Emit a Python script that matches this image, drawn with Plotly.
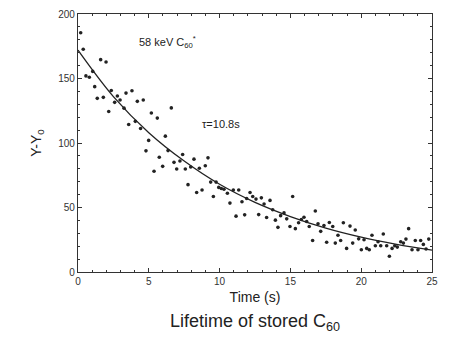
import plotly.graph_objects as go

# Measured points (time s, Y-Y0)
time_s = [0.19, 0.37, 0.56, 0.80, 1.04, 1.18, 1.36, 1.60, 1.79, 1.98, 2.17, 2.35, 2.59, 2.78, 2.97,
          3.25, 3.39, 3.58, 3.81, 4.05, 4.19, 4.42, 4.61, 4.80, 4.99, 5.18, 5.37, 5.60, 5.74, 5.98,
          6.17, 6.36, 6.59, 6.78, 6.97, 7.20, 7.39, 7.58, 7.77, 7.96, 8.19, 8.38, 8.57, 8.76, 8.99,
          9.18, 9.37, 9.56, 9.75, 9.94, 10.12, 10.31, 10.55, 10.73, 10.97, 11.16, 11.35, 11.58, 11.77, 11.91,
          12.15, 12.34, 12.57, 12.76, 12.95, 13.14, 13.32, 13.56, 13.75, 13.94, 14.12, 14.31, 14.55, 14.74, 14.97,
          15.16, 15.35, 15.58, 15.77, 15.96, 16.15, 16.33, 16.57, 16.76, 16.95, 17.14, 17.37, 17.56, 17.75, 17.99,
          18.17, 18.36, 18.55, 18.74, 18.97, 19.21, 19.40, 19.58, 19.82, 20.01, 20.20, 20.39, 20.57, 20.76, 21.00,
          21.19, 21.38, 21.56, 21.80, 21.99, 22.18, 22.37, 22.55, 22.79, 22.98, 23.16, 23.35, 23.59, 23.82, 24.01,
          24.20, 24.39, 24.58, 24.77]
signal = [185.5, 172.7, 152.0, 151.0, 155.5, 143.7, 134.6, 164.6, 135.4, 162.8, 124.4, 140.7, 131.5, 136.4, 133.3,
          127.0, 138.7, 114.3, 140.5, 116.8, 132.3, 111.2, 133.3, 93.9, 102.0, 123.2, 78.1, 119.3, 89.0, 81.9,
          105.3, 94.1, 127.2, 85.0, 79.9, 86.0, 91.1, 79.9, 67.7, 81.4, 87.5, 61.6, 80.4, 63.6, 82.4,
          88.5, 69.7, 58.5, 69.7, 65.6, 64.7, 64.1, 61.1, 53.4, 63.6, 43.3, 63.6, 54.4, 44.3, 57.0,
          61.6, 58.5, 56.5, 44.5, 57.5, 52.7, 42.2, 55.5, 48.3, 40.2, 34.6, 43.7, 45.8, 41.2, 35.3,
          58.5, 33.6, 38.2, 40.7, 42.5, 39.2, 35.3, 24.4, 47.3, 37.4, 31.5, 36.1, 23.1, 38.4, 35.3,
          22.4, 28.5, 24.4, 38.2, 18.3, 35.6, 22.4, 32.6, 25.7, 17.3, 25.0, 18.3, 17.3, 28.5, 20.4,
          23.4, 20.4, 29.5, 20.4, 12.2, 18.3, 20.4, 19.3, 23.4, 22.4, 25.5, 33.6, 17.3, 24.4, 17.3,
          24.4, 21.4, 17.8, 25.5]

# Fit curve
fit_time = [0, 2.5, 5, 7.5, 10, 12.5, 15, 17.5, 20, 22.5, 25]
fit_value = [172, 136, 108, 86, 68, 54, 43, 34, 27, 21.5, 17]

x_ticks = [0, 5, 10, 15, 20, 25]
y_ticks = [0, 50, 100, 150, 200]

font_fam = "Liberation Sans, Arial, sans-serif"

fig = go.Figure()
fig.add_trace(go.Scatter(x=fit_time, y=fit_value, mode="lines",
                         line=dict(color="#222", width=1.3, shape="spline"),
                         hoverinfo="skip", showlegend=False))
fig.add_trace(go.Scatter(x=time_s, y=signal, mode="markers",
                         marker=dict(color="#222", size=3.6),
                         showlegend=False))

axis_common = dict(showgrid=False, zeroline=False, showline=True, linecolor="#333",
                   linewidth=1.2, mirror="allticks", ticks="inside", ticklen=4,
                   tickcolor="#333", automargin=False, ticklabeloverflow="allow",
                   tickfont=dict(family=font_fam, size=10, color="#333"))

fig.update_xaxes(range=[0, 25], tickvals=x_ticks,
                 minor=dict(dtick=1, ticks="inside", ticklen=2, tickcolor="#333"),
                 title=dict(text="Time (s)", font=dict(family=font_fam, size=14, color="#222"),
                            standoff=6),
                 **axis_common)
fig.update_yaxes(range=[0, 200], tickvals=y_ticks,
                 minor=dict(dtick=10, ticks="inside", ticklen=2, tickcolor="#333"),
                 title=dict(text="Y-Y<sub>0</sub>", font=dict(family=font_fam, size=14, color="#222"),
                            standoff=13),
                 **axis_common)

fig.add_annotation(x=4.2, y=178, xref="x", yref="y", showarrow=False, xanchor="left",
                   text="58 keV C<sub>60</sub><sup>*</sup>",
                   font=dict(family=font_fam, size=11, color="#222"))
fig.add_annotation(x=8.6, y=115, xref="x", yref="y", showarrow=False, xanchor="left",
                   text="τ=10.8s", font=dict(family=font_fam, size=11, color="#222"))
fig.add_annotation(x=0.5, y=-0.145, xref="paper", yref="paper", showarrow=False,
                   yanchor="top", text="Lifetime of stored C<sub>60</sub>",
                   font=dict(family=font_fam, size=18, color="#222"))

fig.update_layout(width=449, height=342, margin=dict(l=70, r=25, t=6, b=78),
                  paper_bgcolor="white", plot_bgcolor="white")

fig.write_html("out.html")
